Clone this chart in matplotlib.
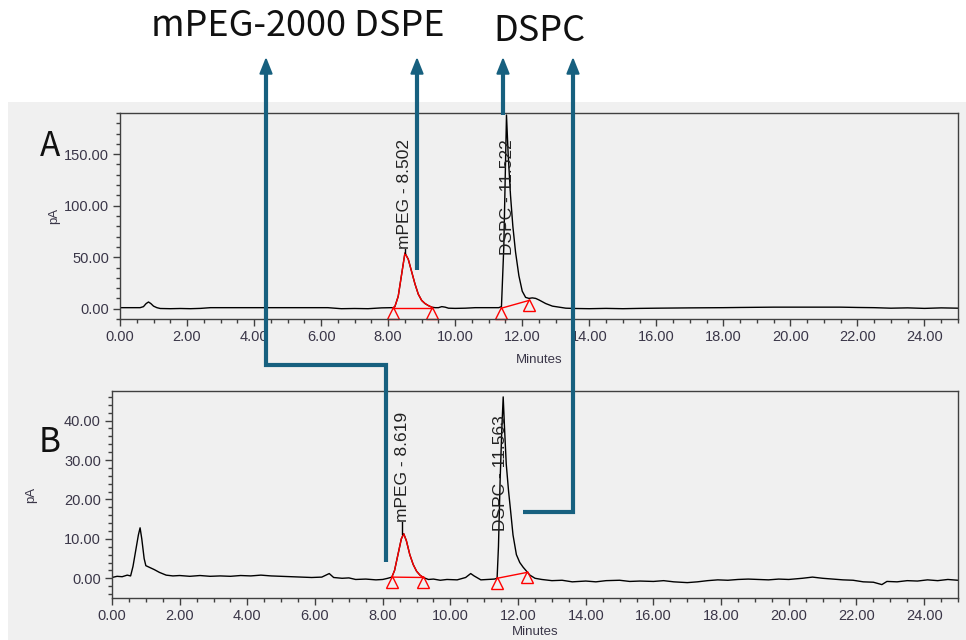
import matplotlib
matplotlib.use("Agg")
import matplotlib.pyplot as plt
import matplotlib.transforms as mtransforms
from matplotlib.patches import Rectangle
from matplotlib.ticker import MultipleLocator, FormatStrFormatter
import numpy as np

# chromatogram A (pA vs minutes)
time_a = [0.0, 0.3, 0.6, 0.7, 0.78, 0.85, 0.92, 1.0, 1.1, 1.2, 1.5, 1.8, 2.1, 2.4, 2.7,
          3.5, 4.5, 5.5, 6.2, 6.6, 7.0, 7.4, 7.8, 8.1, 8.15, 8.2, 8.3, 8.4, 8.5, 8.6, 8.7,
          8.8, 8.9, 9.0, 9.1, 9.2, 9.3, 9.4, 9.5, 9.6, 9.7, 9.8, 10.0, 10.3, 10.6, 11.0,
          11.3, 11.38, 11.45, 11.53, 11.58, 11.65, 11.72, 11.8, 11.9, 12.0, 12.1, 12.2,
          12.3, 12.4, 12.5, 12.7, 12.9, 13.1, 13.3, 13.6, 14.0, 14.5, 15.0, 15.5, 16.0,
          17.0, 18.0, 18.5, 19.5, 20.5, 21.5, 22.0, 22.5, 23.0, 23.5, 24.0, 24.5, 25.0]
pa_a = [1.0, 1.0, 1.0, 2.0, 5.0, 6.5, 5.0, 2.5, 1.0, 0.2, 0.0, 0.2, 0.0, 0.3, 1.0,
        1.0, 1.0, 1.0, 1.0, 0.0, 0.2, 0.0, 0.8, 1.0, 1.0, 2.0, 12.0, 33.0, 54.0, 48.0, 36.0,
        24.0, 14.0, 8.0, 5.0, 3.0, 1.5, 1.0, 1.0, 2.0, 1.5, 0.5, 0.3, 0.5, 1.0, 1.0,
        1.0, 2.0, 60.0, 188.0, 150.0, 110.0, 80.0, 55.0, 32.0, 17.0, 11.0, 10.0,
        10.5, 10.0, 8.5, 5.0, 2.5, 1.5, 0.5, 0.2, 0.0, 0.3, 0.0, 0.3, 0.5,
        0.8, 1.0, 1.2, 1.5, 1.5, 1.5, 1.2, 1.0, 0.5, 0.8, 0.3, 0.8, 0.5]

# chromatogram B
time_b = [0.0, 0.15, 0.3, 0.45, 0.55, 0.62, 0.7, 0.78, 0.83, 0.88, 0.95, 1.0, 1.1, 1.25,
          1.4, 1.6, 1.8, 2.0, 2.3, 2.6, 2.9, 3.2, 3.5, 3.8, 4.1, 4.4, 4.7, 5.0, 5.3, 5.6,
          5.9, 6.2, 6.42, 6.55, 6.8, 7.0, 7.2, 7.5, 7.8, 8.0, 8.15, 8.27, 8.35, 8.45, 8.55,
          8.62, 8.7, 8.8, 8.9, 9.0, 9.1, 9.2, 9.35, 9.5, 9.7, 9.9, 10.2, 10.45, 10.6, 10.7,
          10.9, 11.1, 11.3, 11.38, 11.42, 11.47, 11.52, 11.56, 11.6, 11.65, 11.72, 11.78,
          11.85, 11.95, 12.05, 12.15, 12.27, 12.35, 12.5, 12.7, 13.0, 13.3, 13.6, 14.0,
          14.3, 14.6, 15.0, 15.3, 15.6, 16.0, 16.3, 16.6, 17.0, 17.3, 17.6, 17.9, 18.2,
          18.5, 18.8, 19.1, 19.4, 19.7, 20.0, 20.4, 20.7, 21.0, 21.3, 21.6, 21.9, 22.2,
          22.5, 22.75, 22.9, 23.2, 23.5, 23.8, 24.1, 24.4, 24.7, 25.0]
pa_b = [0.2, 0.5, 0.4, 0.8, 0.6, 3.0, 7.0, 11.0, 12.8, 10.0, 5.0, 3.2, 2.8, 2.2,
        1.5, 0.8, 0.6, 0.7, 0.5, 0.7, 0.5, 0.6, 0.5, 0.7, 0.6, 0.8, 0.6, 0.5, 0.4, 0.3,
        0.2, 0.3, 1.2, 0.2, 0.0, 0.1, -0.3, -0.2, -0.4, -0.3, 0.0, 0.3, 2.0, 6.0, 10.0,
        11.3, 9.5, 6.0, 3.5, 1.8, 0.8, 0.2, -0.3, -0.2, -0.5, -0.3, -0.4, 0.2, 1.2, 0.6,
        -0.4, -0.3, -0.2, 0.0, 8.0, 25.0, 38.0, 46.0, 38.0, 29.0, 22.0, 17.0,
        11.0, 6.0, 4.0, 2.8, 1.6, 0.8, 0.0, -0.3, -0.6, -0.5, -0.9, -0.7,
        -0.9, -0.6, -0.5, -0.8, -0.7, -0.8, -0.6, -0.9, -1.1, -0.9, -0.6, -0.4, -0.5,
        -0.3, -0.2, -0.3, -0.4, -0.2, -0.3, 0.0, 0.3, 0.0, -0.2, -0.4, -0.5, -0.9,
        -1.0, -1.6, -0.8, -0.9, -0.6, -0.7, -0.4, -0.6, -0.3, -0.5]

# integration start/end points (time, pA)
base_a = {'mPEG': [(8.15, 1.0), (9.3, 1.0)], 'DSPC': [(11.38, 0.5), (12.2, 8.0)]}
base_b = {'mPEG': [(8.27, 0.3), (9.2, 0.2)], 'DSPC': [(11.38, 0.0), (12.27, 1.5)]}

# peak labels: text, label x, label bottom, peak top (None = no leader)
labels_a = [('mPEG - 8.502', 8.50, 58, 54), ('DSPC - 11.522', 11.55, 52, None)]
labels_b = [('mPEG - 8.619', 8.57, 14.4, 11.3), ('DSPC - 11.563', 11.48, 12, None)]

bg = '#f0f0f0'
blue = '#17607f'
tick_col = '#3a3648'

fig = plt.figure(figsize=(9.66, 6.4), dpi=100)
fig.add_artist(Rectangle((8 / 966, 0), 958 / 966, 538 / 640, transform=fig.transFigure,
                         facecolor=bg, edgecolor='none', zorder=0))


def draw_panel(rect, t, v, base, labels, ylim, ymaj, ymin, letter, letter_y, xlab_y, ylab_x):
    ax = fig.add_axes(rect)
    ax.set_facecolor(bg)
    t = np.array(t)
    v = np.array(v)
    ax.plot(t, v, color='black', lw=1.0)
    # red integrated mPEG peak
    s, e = base['mPEG']
    m = (t >= s[0]) & (t <= e[0])
    ax.plot(t[m], v[m], color='red', lw=1.0)
    tri = mtransforms.offset_copy(ax.transData, fig=fig, y=-5, units='dots')
    for s, e in base.values():
        ax.plot([s[0], e[0]], [s[1], e[1]], color='red', lw=1.0)
        ax.plot([s[0], e[0]], [s[1], e[1]], ls='none', marker='^', ms=8,
                mfc='none', mec='red', mew=1.0, transform=tri, clip_on=False)
    for txt, x, yb, peak in labels:
        ax.text(x, yb, txt, rotation=90, ha='center', va='bottom',
                family='Liberation Sans', fontsize=12.5, color='#222222')
        if peak is not None:
            ax.plot([x, x], [peak, yb], color='black', lw=1.0)
    ax.set_xlim(0, 25)
    ax.set_ylim(*ylim)
    ax.xaxis.set_major_locator(MultipleLocator(2))
    ax.xaxis.set_minor_locator(MultipleLocator(0.5))
    ax.yaxis.set_major_locator(MultipleLocator(ymaj))
    ax.yaxis.set_minor_locator(MultipleLocator(ymin))
    ax.xaxis.set_major_formatter(FormatStrFormatter('%.2f'))
    ax.yaxis.set_major_formatter(FormatStrFormatter('%.2f'))
    ax.tick_params(which='major', length=5, width=1, color='#404040', pad=3,
                   labelsize=10.5, labelcolor=tick_col)
    ax.tick_params(which='minor', length=3, width=1, color='#404040')
    for tl in ax.get_xticklabels() + ax.get_yticklabels():
        tl.set_family('Liberation Sans')
    for sp in ax.spines.values():
        sp.set_color('#404040')
        sp.set_linewidth(1.0)
    ax.set_xlabel('Minutes', family='Liberation Sans', fontsize=9.5, color=tick_col)
    ax.xaxis.set_label_coords(0.5, xlab_y)
    ax.set_ylabel('pA', family='Liberation Sans', fontsize=9.5, color=tick_col)
    ax.yaxis.set_label_coords(ylab_x, 0.5)
    fig.text(50 / 966, 1 - letter_y / 640, letter, ha='center', va='center',
             family='Noto Sans CJK SC', fontsize=24, fontweight='light', color='#111111')
    return ax


ax_a = draw_panel([120 / 966, 321 / 640, 838 / 966, 206 / 640], time_a, pa_a, base_a,
                  labels_a, (-10, 190), 50, 10, 'A', 147, -0.17, -0.072)
ax_b = draw_panel([112 / 966, 42 / 640, 846 / 966, 207 / 640], time_b, pa_b, base_b,
                  labels_b, (-5, 47.5), 10, 2, 'B', 442, -0.135, -0.088)

# overlay in pixel coordinates for the annotation connectors
ov = fig.add_axes([0, 0, 1, 1], zorder=10)
ov.set_xlim(0, 966)
ov.set_ylim(640, 0)
ov.axis('off')
ov.patch.set_alpha(0)

paths = [
    [(266, 70), (266, 365), (386, 365), (386, 562)],
    [(417, 70), (417, 270)],
    [(503, 70), (503, 115)],
    [(573, 70), (573, 512), (523, 512)],
]
for p in paths:
    xs, ys = zip(*p)
    ov.plot(xs, ys, color=blue, lw=3, solid_capstyle='butt', solid_joinstyle='miter')
    ov.annotate('', xy=(p[0][0], 57), xytext=(p[0][0], 72),
                arrowprops=dict(arrowstyle='-|>,head_length=1.0,head_width=0.4',
                                color=blue, lw=1.5, shrinkA=0, shrinkB=0,
                                mutation_scale=10))

fig.text(298 / 966, 1 - 26 / 640, 'mPEG-2000 DSPE', ha='center', va='center',
         family='Noto Sans CJK SC', fontsize=26, fontweight='light', color='#111111')
fig.text(539 / 966, 1 - 31 / 640, 'DSPC', ha='center', va='center',
         family='Noto Sans CJK SC', fontsize=26, fontweight='light', color='#111111')

fig.savefig('out.png', dpi=100)
